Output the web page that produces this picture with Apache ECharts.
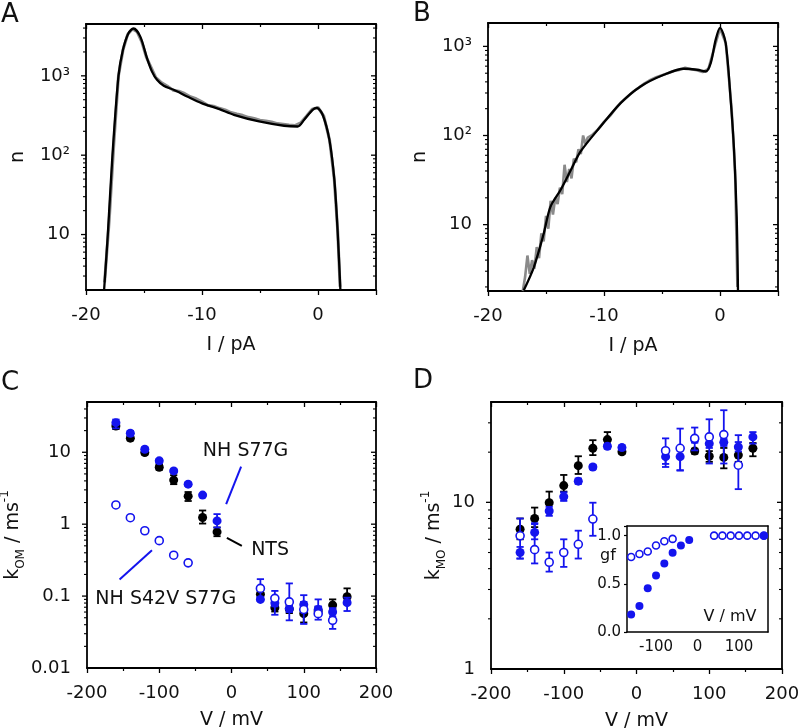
<!DOCTYPE html>
<html><head><meta charset="utf-8">
<script src="https://cdn.jsdelivr.net/npm/echarts@6/dist/echarts.min.js"></script>
<style>html,body{margin:0;padding:0;background:#fff}#c{width:800px;height:728px}</style>
</head><body><div id="c"></div>
<script>
// ---------- Panel A: current histogram (gray) and fit (black) ----------
const histA_I = [-18.4,-18.0,-17.6,-17.2,-16.8,-16.4,-16.0,-15.6,-15.2,-14.8,-14.5,-14.0,-13.5,-13.0,-12.5,-12.0,-11.5,-11.0,-10.5,-10.0,-9.5,-9.0,-8.5,-8.0,-7.5,-7.0,-6.5,-6.0,-5.5,-5.0,-4.5,-4.0,-3.5,-3.0,-2.5,-2.0,-1.5,-1.0,-0.5,0.0,0.5,1.0,1.4,1.7,1.9];
const histA_n = [2.5,15,140,1000,2150,3350,3900,3600,2700,1720,1380,960,820,745,660,640,600,545,515,470,425,415,390,372,345,330,318,300,290,276,270,262,250,246,240,236,255,310,380,400,310,155,50,11,2.2];
const fitA_I = [-18.44,-18.12,-17.72,-17.2,-16.82,-16.34,-15.9,-15.32,-14.74,-14.31,-13.88,-13.3,-12.44,-11.28,-10.04,-8.5,-7.25,-5.08,-2.92,-1.76,-1.19,-0.46,-0.09,0.4,0.98,1.41,1.7,1.93];
const fitA_n = [2,10,100,1000,2120,3440,3950,3120,1670,1130,890,748,667,550,453,380,323,266,235,230,280,373,393,323,157,49,10.5,2];

// ---------- Panel B ----------
const histB_I = [-17.0,-16.8,-16.6,-16.4,-16.2,-16.0,-15.8,-15.6,-15.4,-15.2,-15.0,-14.8,-14.6,-14.4,-14.2,-14.0,-13.8,-13.6,-13.4,-13.2,-13.0,-12.8,-12.6,-12.4,-12.2,-12.0,-11.8,-11.6,-11.4,-11.0,-10.5,-10.0,-9.5,-9.0,-8.5,-8.0,-7.5,-7.0,-6.5,-6.0,-5.5,-5.0,-4.5,-4.0,-3.5,-3.0,-2.5,-2.0,-1.5,-1.0,-0.5,0.0,0.5,1.0,1.3,1.5];
const histB_n = [1.8,2.6,4.5,2.8,4.0,3.2,5.6,4.2,8.0,6.5,12.5,9.0,18.5,13.0,20.0,17.0,26.0,22.0,47.0,30.0,42.0,33.0,55.0,50.0,70.0,62.0,100.0,80.0,95.0,102,118,142,165,200,238,270,310,345,385,420,450,475,500,530,545,575,555,540,515,560,950,1600,1080,200,40,2];
const fitB_I = [-16.93,-16.06,-15.2,-14.62,-13.76,-12.9,-12.03,-10.3,-8.57,-6.85,-4.84,-3.11,-1.95,-1.24,-0.8,-0.37,0,0.49,0.92,1.21,1.44,1.55];
const fitB_n = [1.82,3.3,7.9,15.8,24.3,40,65.8,126,231,355,480,561,547,523,650,1190,1610,1090,251,69,12.2,1.82];

// ---------- Panels C & D: voltages ----------
const vAll = [-160,-140,-120,-100,-80,-60,-40,-20,40,60,80,100,120,140,160];
const vOpen = [-160,-140,-120,-100,-80,-60,40,60,80,100,120,140];

// Panel C: k_OM
const cNTS   = [23.2,15.7,9.9,6.2,4.1,2.45,1.24,0.78,0.106,0.069,0.066,0.057,0.062,0.075,0.098];
const cNTSlo = [21,14.6,9.3,5.7,3.6,2.1,1.02,0.68,0.096,0.061,0.058,0.043,0.055,0.066,0.085];
const cNTShi = [25.5,17,10.5,6.8,4.8,2.8,1.55,0.9,0.117,0.078,0.075,0.07,0.07,0.09,0.128];
const cS77G   = [25.8,18.4,11.0,7.6,5.5,3.6,2.54,1.11,0.090,0.080,0.067,0.076,0.065,0.060,0.081];
const cS77Glo = [21.5,17,10.3,7.1,5.2,3.4,2.45,0.9,0.085,0.072,0.06,0.068,0.058,0.052,0.062];
const cS77Ghi = [28.5,19.8,11.7,8.1,5.8,3.8,2.65,1.38,0.095,0.088,0.075,0.083,0.072,0.068,0.095];
const cS42V   = [1.85,1.23,0.81,0.59,0.37,0.29,0.128,0.093,0.083,0.065,0.057,0.046];
const cS42Vlo = [1.8,1.2,0.79,0.57,0.36,0.275,0.095,0.055,0.046,0.041,0.047,0.035];
const cS42Vhi = [1.9,1.26,0.83,0.61,0.38,0.31,0.172,0.118,0.15,0.103,0.090,0.06];

// Panel D: k_MO
const vD_NTS = [-160,-140,-120,-100,-80,-60,-40,-20,80,100,120,140,160];
const dNTS   = [6.9,8.0,9.95,12.6,16.6,21.1,23.8,20.1,20.3,18.9,18.6,19.2,21.1];
const dNTSlo = [6.0,7.1,8.8,11.6,14.8,19.2,22,19.6,19.6,17.5,16.0,17.5,18.9];
const dNTShi = [8.0,9.3,11.6,14.6,18.9,23.6,26.4,20.6,21,20.3,21.2,21,22.7];
const dS77G   = [5.0,6.6,8.87,10.8,13.4,16.3,21.7,21.3,18.8,18.8,23.8,22.5,22.9,21.5,24.7];
const dS77Glo = [4.6,6.0,8.3,10.2,12.9,15.8,21.0,20.6,17.0,15.5,22.8,21.2,21.8,20.2,22.5];
const dS77Ghi = [5.4,7.5,9.4,11.5,13.9,16.8,22.4,22.0,20.5,21.5,24.8,23.8,24.0,23,26.4];
const dS42V   = [6.3,5.2,4.37,5.0,5.6,7.94,20.4,21.1,24.2,24.7,25.5,16.7];
const dS42Vlo = [4.6,4.3,3.84,4.1,4.6,6.3,16.3,15.6,20.5,17.1,17.1,12.0];
const dS42Vhi = [8.0,7.4,5.0,6.0,6.76,9.95,24.2,27.7,28.1,31.5,35.7,25.3];

// Inset: gating fraction gf
const gfOpenV = [-160,-140,-120,-100,-80,-60,40,60,80,100,120,140,160];
const gfOpen  = [0.778,0.809,0.836,0.898,0.942,0.966,1,1,1,1,1,1,1];
const gfFillV = [-160,-140,-120,-100,-80,-60,-40,-20,160];
const gfFill  = [0.181,0.27,0.454,0.587,0.71,0.823,0.898,0.956,1.0];

// ---------- helpers ----------
const fam = 'DejaVu Sans';
const BLUE = '#1414ee';
const BLACK = '#000';
const zip = (a, b) => a.map((v, i) => [v, b[i]]);
const zip3 = (a, b, c) => a.map((v, i) => [v, b[i], c[i]]);

function isPow10(v) {
  const e = Math.round(Math.log10(v));
  return Math.abs(v / Math.pow(10, e) - 1) < 1e-6 ? e : null;
}
const supMap = {2: '10\u00b2', 3: '10\u00b3', 1: '10', 0: '1'};
const fmtAB = v => { const e = isPow10(v); return e === null ? '' : (supMap[e] || ''); };
const fmtC = v => { const e = isPow10(v); if (e === null) return ''; return ({'-2':'0.01','-1':'0.1','0':'1','1':'10'})[e] || ''; };
const fmtD = v => { const e = isPow10(v); if (e === null) return ''; return ({'0':'1','1':'10'})[e] || ''; };

const lblStyle = {color: '#111', fontSize: 18, fontFamily: fam};
const nameStyle = {color: '#111', fontSize: 19, fontFamily: fam};

function xPair(g, min, max, interval, name, nameGap, fmt) {
  const base = {
    type: 'value', gridIndex: g, min, max, interval,
    axisLine: {show: true, onZero: false, lineStyle: {color: BLACK, width: 1.8}},
    axisTick: {show: true, length: 5, lineStyle: {color: BLACK, width: 1.3}},
    minorTick: {show: true, splitNumber: 2, length: 3, lineStyle: {color: BLACK, width: 1.2}},
    splitLine: {show: false}, minorSplitLine: {show: false}
  };
  return [
    Object.assign({}, base, {position: 'bottom',
      axisLabel: Object.assign({show: true, margin: 16, formatter: fmt}, lblStyle),
      name, nameLocation: 'middle', nameGap, nameTextStyle: nameStyle}),
    Object.assign({}, base, {position: 'top', axisTick: Object.assign({}, base.axisTick, {inside: true}),
      axisLabel: {show: false}})
  ];
}
function yPairLog(g, min, max, fmt, name, nameGap, rich) {
  const base = {
    type: 'log', logBase: 10, gridIndex: g, min, max,
    axisLine: {show: true, onZero: false, lineStyle: {color: BLACK, width: 1.8}},
    axisTick: {show: false}, minorTick: {show: false},
    splitLine: {show: false}, minorSplitLine: {show: false}
  };
  return [
    Object.assign({}, base, {position: 'left',
      axisLabel: Object.assign({show: true, margin: 16, formatter: fmt}, lblStyle),
      name, nameLocation: 'middle', nameGap,
      nameTextStyle: Object.assign({}, nameStyle, rich ? {rich} : {})}),
    Object.assign({}, base, {position: 'right', axisLabel: {show: false}})
  ];
}
// log-axis tick marks (major + minor) drawn through the axis scale
function logTickSeries(xi, xAt, min, max) {
  const rows = [];
  for (let e = -3; e <= 4; e++) {
    for (let m = 1; m <= 9; m++) {
      const v = m * Math.pow(10, e);
      if (v > min * 1.0001 && v < max * 0.9999) rows.push([xAt, v, m === 1 ? 1 : 0]);
    }
  }
  return {
    type: 'custom', xAxisIndex: xi, yAxisIndex: xi, data: rows, silent: true, z: 5,
    encode: {x: 0, y: 1}, clip: false,
    renderItem: (params, api) => {
      const cs = params.coordSys;
      const y = api.coord([api.value(0), api.value(1)])[1];
      const L = api.value(2) ? 5 : 3;
      const st = {stroke: BLACK, lineWidth: api.value(2) ? 1.3 : 1.1};
      return {type: 'group', children: [
        {type: 'line', shape: {x1: cs.x - L, y1: y, x2: cs.x, y2: y}, style: st},
        {type: 'line', shape: {x1: cs.x + cs.width - L, y1: y, x2: cs.x + cs.width, y2: y}, style: st}
      ]};
    }
  };
}
function errSeries(axis, rows, color, z) {
  return {
    type: 'custom', xAxisIndex: axis, yAxisIndex: axis, data: rows, silent: true, z,
    encode: {x: 0, y: [1, 2]},
    renderItem: (params, api) => {
      const x = api.value(0);
      const a = api.coord([x, api.value(1)]), b = api.coord([x, api.value(2)]);
      const st = {stroke: color, lineWidth: 1.8};
      const w = 3.6;
      return {type: 'group', children: [
        {type: 'line', shape: {x1: a[0], y1: a[1], x2: b[0], y2: b[1]}, style: st},
        {type: 'line', shape: {x1: a[0] - w, y1: a[1], x2: a[0] + w, y2: a[1]}, style: st},
        {type: 'line', shape: {x1: b[0] - w, y1: b[1], x2: b[0] + w, y2: b[1]}, style: st}
      ]};
    }
  };
}
function dots(axis, data, filled, color, z, size, extra) {
  return Object.assign({
    type: 'scatter', xAxisIndex: axis, yAxisIndex: axis, data, z, symbol: 'circle',
    symbolSize: size, silent: true,
    itemStyle: filled ? {color, borderWidth: 0, opacity: 1} : {color: '#fff', borderColor: color, borderWidth: 1.6, opacity: 1}
  }, extra || {});
}
function annoLine(p1, p2, color) {
  return {silent: true, symbol: ['none', 'none'], label: {show: false},
    lineStyle: {color, width: 2, type: 'solid', opacity: 1}, data: [[{coord: p1}, {coord: p2}]]};
}
function annoText(pt, text) {
  return {silent: true, symbol: 'circle', symbolSize: 1, itemStyle: {color: 'rgba(0,0,0,0)'},
    label: {show: true, position: 'inside', formatter: text, color: '#111', fontSize: 19, fontFamily: fam},
    data: [{coord: pt}]};
}

const kRich = {
  k: {fontSize: 19, fontFamily: fam, color: '#111', lineHeight: 28},
  sub: {fontSize: 12, fontFamily: fam, color: '#111', verticalAlign: 'bottom', lineHeight: 28},
  sup: {fontSize: 12, fontFamily: fam, color: '#111', verticalAlign: 'top', lineHeight: 28}
};

const fmtX = v => (Math.abs(v % 10) < 1e-9 ? String(v) : '');
const fmtX2 = v => (Math.abs(v % 100) < 1e-9 ? String(v) : '');

const xAxes = [].concat(
  xPair(0, -20, 5, 10, 'I / pA', 46, fmtX),
  xPair(1, -20, 5, 10, 'I / pA', 46, fmtX),
  xPair(2, -200, 200, 100, 'V / mV', 43, fmtX2),
  xPair(3, -200, 200, 100, 'V / mV', 43, fmtX2)
);
const yAxes = [].concat(
  yPairLog(0, 2, 4500, fmtAB, 'n', 58),
  yPairLog(1, 1.8, 1830, fmtAB, 'n', 58),
  yPairLog(2, 0.01, 50, fmtC, '{k|k}{sub|OM}{k| / ms}{sup|-1}', 42, kRich),
  yPairLog(3, 1, 40, fmtD, '{k|k}{sub|MO}{k| / ms}{sup|-1}', 42, kRich)
);
// inset axes (index 8, 9)
const insetLine = {show: true, onZero: false, lineStyle: {color: BLACK, width: 1.5}};
xAxes.push({
  type: 'value', gridIndex: 4, min: -170, max: 170, splitNumber: 3, position: 'bottom',
  axisLine: insetLine, axisTick: {show: false}, splitLine: {show: false},
  axisLabel: Object.assign({show: true, margin: 8, formatter: fmtX2}, lblStyle, {fontSize: 15})
});
yAxes.push({
  type: 'value', gridIndex: 4, min: 0, max: 1.1, interval: 0.5, position: 'left',
  axisLine: insetLine,
  axisTick: {show: true, length: 3, lineStyle: {color: BLACK, width: 1.2}}, splitLine: {show: false},
  axisLabel: Object.assign({show: true, margin: 6,
    formatter: v => (Math.abs(v * 2 - Math.round(v * 2)) < 1e-6 ? v.toFixed(1) : '')}, lblStyle, {fontSize: 15})
});
xAxes.push({type: 'value', gridIndex: 4, position: 'top', min: -170, max: 170, axisLine: insetLine, axisTick: {show: false}, axisLabel: {show: false}, splitLine: {show: false}});
yAxes.push({type: 'value', gridIndex: 4, position: 'right', min: 0, max: 1.1, axisLine: insetLine, axisTick: {show: false}, axisLabel: {show: false}, splitLine: {show: false}});

const series = [
  // A
  {type: 'line', xAxisIndex: 0, yAxisIndex: 0, data: zip(histA_I, histA_n), symbol: 'none', silent: true, z: 2,
    lineStyle: {color: '#8a8a8a', width: 3}},
  {type: 'line', xAxisIndex: 0, yAxisIndex: 0, data: zip(fitA_I, fitA_n), symbol: 'none', silent: true, z: 3,
    smooth: 0.3, lineStyle: {color: BLACK, width: 2.3}},
  logTickSeries(0, -20, 2, 4500),
  // B
  {type: 'line', xAxisIndex: 2, yAxisIndex: 2, data: zip(histB_I, histB_n), symbol: 'none', silent: true, z: 2,
    lineStyle: {color: '#8a8a8a', width: 2.6}},
  {type: 'line', xAxisIndex: 2, yAxisIndex: 2, data: zip(fitB_I, fitB_n), symbol: 'none', silent: true, z: 3,
    smooth: 0.3, lineStyle: {color: BLACK, width: 2.3}},
  logTickSeries(2, -20, 1.8, 1830),
  // C
  logTickSeries(4, -200, 0.01, 50),
  errSeries(4, zip3(vAll, cNTSlo, cNTShi), BLACK, 3),
  dots(4, zip(vAll, cNTS), true, BLACK, 4, 9, {markLine: annoLine([-6.4, 0.647], [14.3, 0.5], BLACK), markPoint: annoText([53.4, 0.435], 'NTS')}),
  errSeries(4, zip3(vAll, cS77Glo, cS77Ghi), BLUE, 5),
  dots(4, zip(vAll, cS77G), true, BLUE, 6, 9, {markLine: annoLine([13.3, 6.3], [-7.4, 1.9], BLUE), markPoint: annoText([19.5, 10.4], 'NH S77G')}),
  errSeries(4, zip3(vOpen, cS42Vlo, cS42Vhi), BLUE, 7),
  dots(4, zip(vOpen, cS42V), false, BLUE, 8, 8, {markLine: annoLine([-154.9, 0.17], [-110.1, 0.435], BLUE), markPoint: annoText([-91, 0.09], 'NH S42V S77G')}),
  // D
  logTickSeries(6, -200, 1, 40),
  errSeries(6, zip3(vD_NTS, dNTSlo, dNTShi), BLACK, 3),
  dots(6, zip(vD_NTS, dNTS), true, BLACK, 4, 9),
  errSeries(6, zip3(vAll, dS77Glo, dS77Ghi), BLUE, 5),
  dots(6, zip(vAll, dS77G), true, BLUE, 6, 9),
  errSeries(6, zip3(vOpen, dS42Vlo, dS42Vhi), BLUE, 7),
  dots(6, zip(vOpen, dS42V), false, BLUE, 8, 8),
  // inset
  dots(8, zip(gfOpenV, gfOpen), false, BLUE, 10, 7),
  dots(8, zip(gfFillV, gfFill), true, BLUE, 11, 8)
];

const panelLetter = (t, x, y) => ({type: 'text', left: x, top: y, silent: true,
  style: {text: t, fontSize: 26, fontFamily: fam, fill: '#111'}});

const option = {
  animation: false,
  backgroundColor: '#fff',
  textStyle: {fontFamily: fam},
  grid: [
    {left: 86, top: 24, width: 290, height: 266, outerBoundsMode: 'none'},
    {left: 488, top: 23, width: 290, height: 268, outerBoundsMode: 'none'},
    {left: 87, top: 402, width: 289, height: 266, outerBoundsMode: 'none'},
    {left: 491, top: 402, width: 291, height: 267, outerBoundsMode: 'none'},
    {left: 627, top: 526, width: 141, height: 106, outerBoundsMode: 'none', show: true, backgroundColor: '#fff', borderWidth: 0}
  ],
  xAxis: xAxes,
  yAxis: yAxes,
  series,
  graphic: [
    panelLetter('A', 1, 2),
    panelLetter('B', 413, 1),
    panelLetter('C', 1, 370),
    panelLetter('D', 413, 368),
    {type: 'text', x: 608, y: 556, silent: true, z: 20,
      style: {text: 'gf', fontSize: 16, fontFamily: fam, fill: '#111', align: 'center', verticalAlign: 'middle'}},
    {type: 'text', x: 730, y: 617, silent: true, z: 20,
      style: {text: 'V / mV', fontSize: 16, fontFamily: fam, fill: '#111', align: 'center', verticalAlign: 'middle'}}
  ]
};

const chart = echarts.init(document.getElementById('c'), null, {renderer: 'canvas'});
chart.setOption(option);
</script>
</body></html>
